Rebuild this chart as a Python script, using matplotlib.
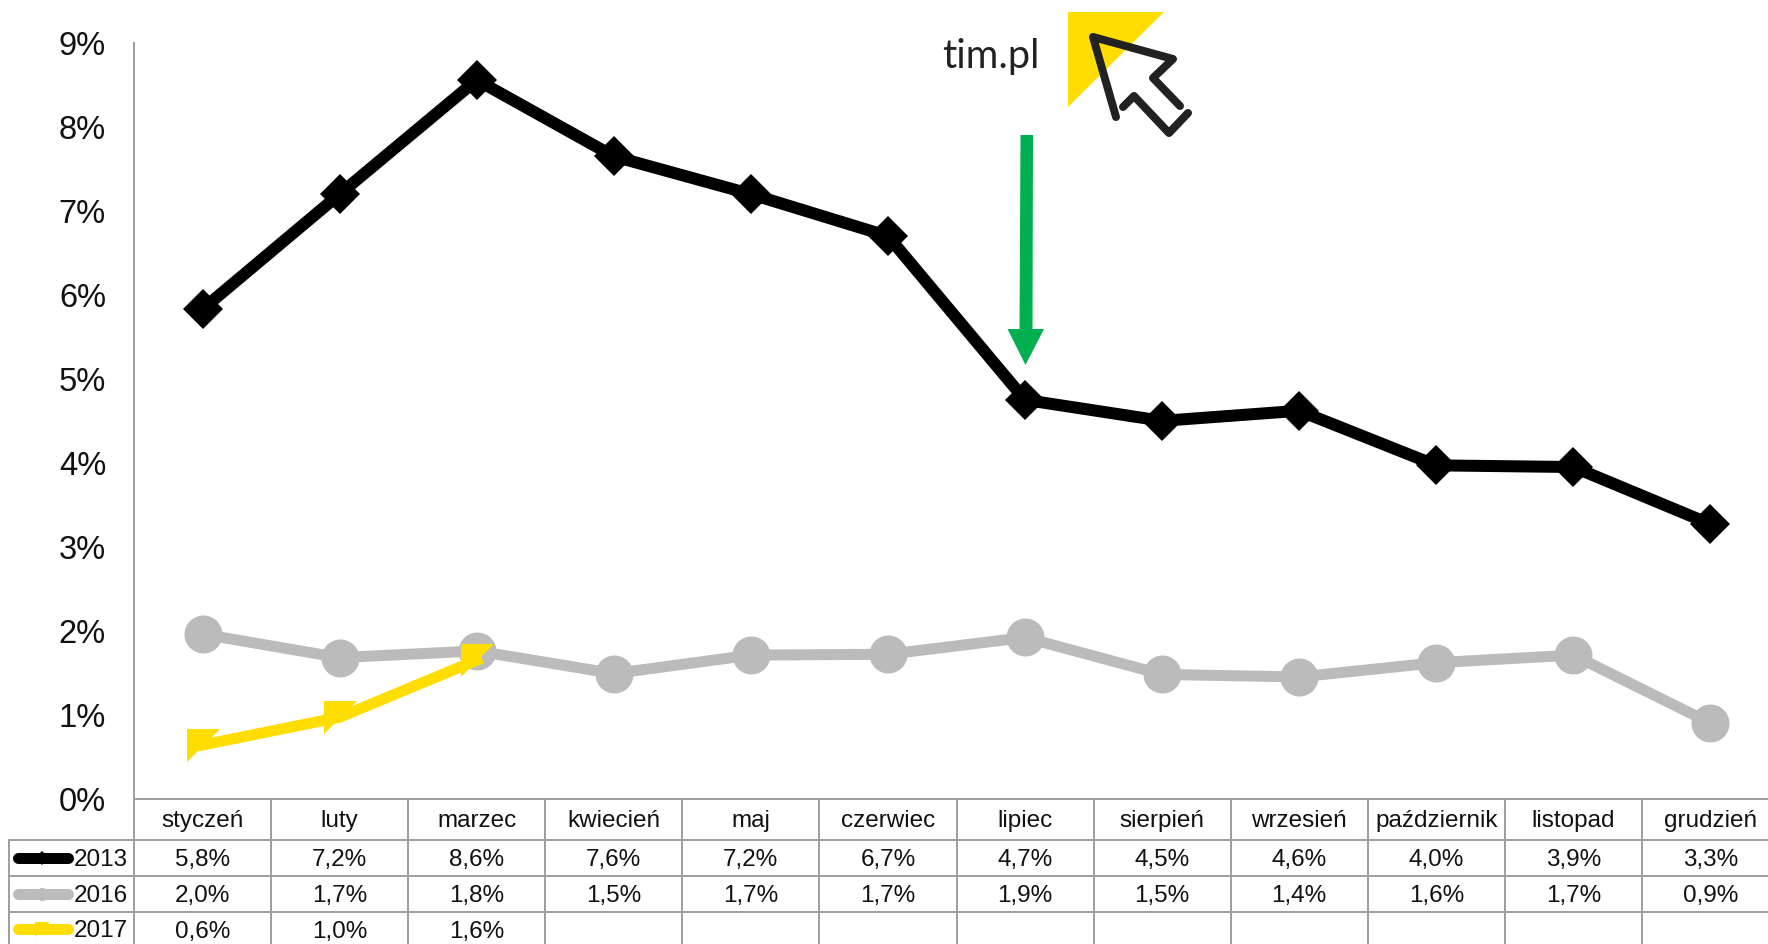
import matplotlib
matplotlib.use("Agg")
import matplotlib.pyplot as plt
from matplotlib.patches import Polygon

plt.rcParams['font.family'] = ['Liberation Sans', 'DejaVu Sans']

months = ["styczeń", "luty", "marzec", "kwiecień", "maj", "czerwiec", "lipiec",
          "sierpień", "wrzesień", "październik", "listopad", "grudzień"]
years = ["2013", "2016", "2017"]
v2013 = [5.83, 7.2, 8.56, 7.65, 7.2, 6.7, 4.75, 4.5, 4.62, 3.97, 3.95, 3.27]
v2016 = [1.96, 1.68, 1.76, 1.49, 1.71, 1.72, 1.92, 1.48, 1.45, 1.62, 1.71, 0.9]
v2017 = [0.64, 0.97, 1.65]
t2013 = ["5,8%", "7,2%", "8,6%", "7,6%", "7,2%", "6,7%", "4,7%", "4,5%", "4,6%", "4,0%", "3,9%", "3,3%"]
t2016 = ["2,0%", "1,7%", "1,8%", "1,5%", "1,7%", "1,7%", "1,9%", "1,5%", "1,4%", "1,6%", "1,7%", "0,9%"]
t2017 = ["0,6%", "1,0%", "1,6%"]
yticks = list(range(10))

W, H = 1768, 944
AX_L, AX_R, AX_T, AX_B = 134, 1779, 43, 798.7
col = (AX_R - AX_L) / 12
BLACK, GRAY, YELLOW = "#000000", "#BBBBBB", "#FFDD00"
GRID = "#A0A0A0"
px = 72 / 100
tri = [(-1, 1), (1, 1), (-1, -1), (-1, 1)]

fig = plt.figure(figsize=(W / 100, H / 100), dpi=100, facecolor="white")
ax = fig.add_axes([AX_L / W, 1 - AX_B / H, (AX_R - AX_L) / W, (AX_B - AX_T) / H])
xs = [i + 0.5 for i in range(12)]
ax.plot(xs, v2013, color=BLACK, lw=12 * px, marker="D", ms=28 * px, mew=0, solid_joinstyle="miter", zorder=3)
ax.plot(xs, v2016, color=GRAY, lw=11 * px, marker="o", ms=38 * px, mew=0, zorder=4)
ax.plot(xs[:3], v2017, color=YELLOW, lw=11 * px, marker=tri, ms=33 * px, mew=0, zorder=5)
ax.set_xlim(0, 12)
ax.set_ylim(0, 9)
ax.set_xticks([])
ax.set_yticks(yticks)
ax.set_yticklabels([f"{v}%" for v in yticks], fontsize=23.5, color="#111111")
ax.tick_params(axis="y", length=0, pad=28 * px)
for s in ("top", "right"):
    ax.spines[s].set_visible(False)
for s in ("left", "bottom"):
    ax.spines[s].set_color(GRID)
    ax.spines[s].set_linewidth(2 * px)

ov = fig.add_axes([0, 0, 1, 1], zorder=10)
ov.set_xlim(0, W)
ov.set_ylim(H, 0)
ov.axis("off")
ov.patch.set_alpha(0)

# table grid
rows_y = [840, 876, 912]
for y in rows_y:
    ov.plot([8, W], [y, y], color=GRID, lw=2 * px, solid_capstyle="butt")
ov.plot([9, 9], [840, H], color=GRID, lw=2 * px, solid_capstyle="butt")
for i in range(13):
    x = AX_L + i * col
    ov.plot([x, x], [AX_B, H], color=GRID, lw=2 * px, solid_capstyle="butt")

FS = 17.5
for i, m in enumerate(months):
    ov.text(AX_L + (i + .5) * col, 821, m, ha="center", va="center", fontsize=FS, color="#111111")
for y, labels in zip([860, 896, 932], [t2013, t2016, t2017]):
    for i, t in enumerate(labels):
        ov.text(AX_L + (i + .5) * col, y, t, ha="center", va="center", fontsize=FS, color="#111111")

# legend keys
for y, yr, c, mk, ms in zip([858, 894, 929], years, [BLACK, GRAY, YELLOW], ["D", "o", tri], [10, 13, 15]):
    ov.plot([18, 68], [y, y], color=c, lw=11 * px, solid_capstyle="round")
    ov.plot([42], [y], color=c, marker=mk, ms=ms * px, mew=0)
    ov.text(74, y + 2, yr, ha="left", va="center", fontsize=FS, color="#111111")

# arrow
ov.add_patch(Polygon([(1020.5, 135), (1033, 135), (1032.5, 329), (1044, 329), (1025.5, 365),
                      (1007.5, 329), (1019.5, 329)], closed=True, fc="#00B050", ec="none"))

# logo
ov.add_patch(Polygon([(1068, 12), (1164, 12), (1068, 107)], closed=True, fc=YELLOW, ec="none"))
ov.text(942, 68, "tim.pl", family=["Lato", "DejaVu Sans"], fontsize=28.5, color="#222222", ha="left", va="baseline")
ov.plot([1116, 1093, 1173, 1153, 1180], [117, 37, 59, 78, 106], color="#222222", lw=8 * px,
        solid_capstyle="round", solid_joinstyle="round")
ov.plot([1123, 1134, 1169, 1188], [107, 96, 133, 113], color="#222222", lw=8 * px,
        solid_capstyle="round", solid_joinstyle="round")

fig.savefig("out.png", dpi=100)
